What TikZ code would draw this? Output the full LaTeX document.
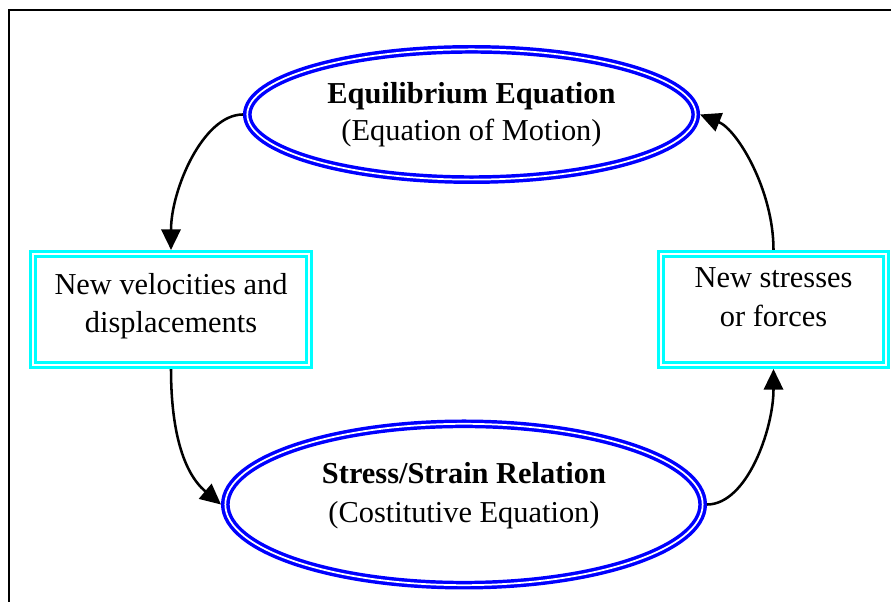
\documentclass[tikz,border=0pt]{standalone}
\usepackage{fontspec}
\setmainfont{Liberation Serif}
\definecolor{ringblue}{RGB}{0,0,255}
\definecolor{boxcyan}{RGB}{0,255,255}
\usetikzlibrary{arrows.meta}
\usetikzlibrary{shapes.geometric}
% extra depth below the last line, moves the text up in its shape
\newcommand{\dropline}[1]{\rule[-#1]{0pt}{0pt}}

\begin{document}
\begin{tikzpicture}[x=0.75pt,y=0.75pt,
	every node/.style={font=\fontsize{22.8}{28}\selectfont, align=center, inner sep=0pt},
	eqn/.style={ellipse, draw=ringblue, line width=2.6pt, double=white, double distance=1.3pt, outer sep=3.25pt},
	newbox/.style={rectangle, draw=boxcyan, line width=2.3pt, double=white, double distance=1.5pt, outer sep=3.05pt, minimum height=83.2pt},
	flow/.style={line width=1.9pt, -{Triangle[length=15.5pt,width=14.5pt]}}]
	\useasboundingbox (0,0) rectangle (891,602);
	\clip (0,0) rectangle (891,602);
	
	%Frame
	\draw [line width=1.8pt] (9,-20) rectangle (920,592);
	
	%Ellipse: equilibrium
	\node [eqn, minimum width=336.3pt, minimum height=97.7pt] (equil) at (471.5,487.5)
		{\textbf{Equilibrium Equation}\\(Equation of Motion)};
	%Ellipse: constitutive law
	\node [eqn, minimum width=358pt, minimum height=121pt] (stress) at (464,97.5)
		{\textbf{Stress/Strain Relation}\\[1.2pt](Costitutive Equation)\dropline{18.75pt}};
	
	%Box: kinematics
	\node [newbox, minimum width=206.9pt] (vel) at (171,292.5)
		{New velocities and\\displacements\dropline{9.75pt}};
	%Box: forces
	\node [newbox, minimum width=168.7pt] (forces) at (773.5,292.5)
		{New stresses\\[1.2pt]or forces\dropline{18.75pt}};
	
	%Loop arrows
	\draw [flow] (equil.west) .. controls +(-40,0) and +(0,60) .. (vel.north);
	\draw [flow] (vel.south) .. controls +(0,-60) and +(140:50) .. (stress.west);
	\draw [flow] (stress.east) .. controls +(40,0) and +(0,-60) .. (forces.south);
	\draw [flow] (forces.north) .. controls +(0,60) and +(-22:40) .. (equil.east);
	
\end{tikzpicture}
\end{document}
